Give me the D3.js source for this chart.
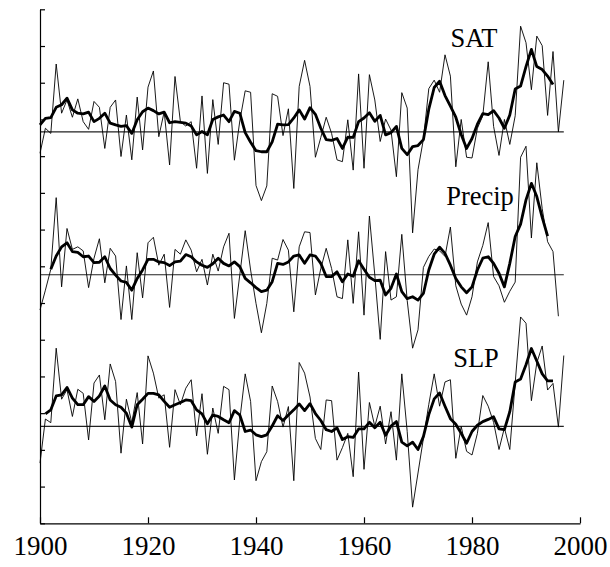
<!DOCTYPE html>
<html>
<head>
<meta charset="utf-8">
<script src="https://cdn.jsdelivr.net/npm/d3@7"></script>
<style>
  html, body { margin: 0; padding: 0; background: #fff; }
  svg { display: block; }
</style>
</head>
<body>
<svg id="chart" width="610" height="567"></svg>
<script>
// ---------------- DATA (values in axis tick units, relative to each series' zero line) -------------
const xTicks = [1900, 1920, 1940, 1960, 1980, 2000];
const seriesNames = ["SAT", "Precip", "SLP"];
const seriesOffsets = [10.66, 6.77, 2.64];   // zero-line position of each series on the stacked axis

const satYears = d3.range(1900, 1998);
const satAnnual = [-0.58, 0.1, -0.04, 1.85, 0.51, 0.87, 0.4, 0.9, 0.28, 0.07,
  0.83, 0.67, -0.45, 0.67, 0.87, -0.67, 0.46, -0.76, 0.95, -0.49,
  1.22, 1.66, -0.13, 0.55, -0.9, 1.51, 0.28, 0.16, 0.28, -0.99,
  0.98, -1.13, 0.88, -0.34, 1.34, 1.3, -0.77, 0.3, 1.12, 1.08,
  -1.46, -1.87, -1.47, 1.04, 0.97, -0.1, 0.63, -1.54, 1.24, 1.95,
  1.24, -0.69, -0.15, 0.4, -0.04, -0.76, -0.81, 0.33, -1.04, 1.58,
  -0.99, 1.56, 0.87, -0.26, 0.35, 0.05, -1.22, 1.07, 0.65, -2.75,
  -1.03, -0.2, 1.18, 1.41, 1.08, 2.1, 1.52, -0.95, 0.34, -0.69,
  -0.71, 0.1, 0.44, 1.91, 0.15, -0.64, 0.34, -0.34, 0.44, 2.88,
  2.43, 1.15, 2.61, 2.35, 0.45, 2.19, 0.0, 1.41];
const satSmoothYears = d3.range(1900, 1996);
const satSmooth = [0.19, 0.37, 0.39, 0.67, 0.74, 0.92, 0.6, 0.51, 0.49, 0.54,
  0.28, 0.37, 0.51, 0.24, 0.19, 0.15, 0.17, -0.04, 0.33, 0.55,
  0.65, 0.58, 0.49, 0.54, 0.25, 0.28, 0.26, 0.24, 0.16, -0.08,
  0.01, -0.08, 0.34, 0.41, 0.46, 0.28, 0.56, 0.51, -0.02, -0.28,
  -0.51, -0.54, -0.54, -0.27, 0.21, 0.19, 0.2, 0.38, 0.6, 0.35,
  0.66, 0.48, 0.1, -0.21, -0.23, -0.18, -0.45, -0.14, -0.15, 0.28,
  0.38, 0.52, 0.29, 0.45, -0.08, -0.02, 0.15, -0.45, -0.62, -0.4,
  -0.37, -0.21, 0.62, 1.21, 1.38, 0.99, 0.7, 0.4, -0.07, -0.45,
  -0.18, 0.21, 0.5, 0.47, 0.58, 0.38, 0.1, 0.46, 1.17, 1.25,
  1.78, 2.25, 1.78, 1.7, 1.52, 1.29];

const precipYears = d3.range(1900, 1997);
const precipAnnual = [-0.96, -0.42, 0.15, 2.1, -0.33, 1.26, 0.69, 0.76, 0.65, -0.35,
  0.45, 0.98, -0.22, 0.72, 0.51, -1.22, 0.24, -1.22, 0.6, -0.63,
  0.87, 1.02, 0.26, 0.56, -0.89, 0.69, 0.56, 0.95, 0.67, 0.08,
  0.42, -0.28, 0.56, 0.1, 0.76, 1.13, -1.19, 0.0, 1.2, 0.13,
  -0.78, -1.58, -0.78, 0.45, 0.4, 0.96, 0.67, -1.01, 0.76, 1.17,
  1.15, -0.55, 0.17, 0.72, 0.17, -0.6, -0.65, 0.95, -0.78, 1.17,
  -1.1, 1.6, -0.01, -1.76, 0.63, -0.69, -0.6, 1.1, -0.7, -2.0,
  -1.5, 0.2, 0.5, 0.7, 0.65, 0.5, 1.3, -0.3, -0.8, -1.1,
  -0.6, 0.35, 0.8, 1.42, -0.05, -0.3, -0.75, -0.45, -0.2, 3.2,
  3.5, 1.0, 3.05, 1.8, 0.9, 0.63, -1.13];
const precipSmoothYears = d3.range(1902, 1995);
const precipSmooth = [0.15, 0.51, 0.76, 0.87, 0.63, 0.61, 0.49, 0.51,
  0.33, 0.34, 0.49, 0.17, -0.01, -0.17, -0.21, -0.42, -0.1, 0.13,
  0.42, 0.42, 0.35, 0.33, 0.25, 0.35, 0.37, 0.55, 0.49, 0.35,
  0.26, 0.2, 0.3, 0.45, 0.31, 0.24, 0.35, 0.22, -0.1, -0.22,
  -0.35, -0.46, -0.42, -0.19, 0.31, 0.28, 0.35, 0.51, 0.54, 0.31,
  0.54, 0.51, 0.31, -0.05, -0.05, 0.08, -0.19, 0.02, -0.04, 0.38,
  0.15, -0.07, -0.16, -0.15, -0.55, -0.37, 0.02, -0.46, -0.65, -0.6,
  -0.69, -0.51, 0.13, 0.56, 0.75, 0.58, 0.26, -0.1, -0.33, -0.49,
  -0.33, 0.13, 0.45, 0.49, 0.31, 0.04, -0.33, 0.31, 1.04, 1.38,
  2.04, 2.49, 2.13, 1.56, 1.05];

const slpYears = d3.range(1900, 1998);
const slpAnnual = [-1.0, 0.2, 0.1, 2.13, 0.74, 1.0, 0.27, 1.01, 0.9, -0.37,
  1.18, 1.4, 0.18, 1.7, 1.22, -0.73, 0.74, 0.1, 0.92, -0.48,
  1.92, 1.45, 0.77, 0.86, -0.57, 1.0, 0.59, 1.04, 1.27, -0.26,
  0.89, -0.76, 0.5, -0.19, 1.09, 1.0, -1.46, 0.18, 1.43, 0.68,
  -1.48, -0.96, -0.69, 1.1, 0.68, -0.02, 0.54, -1.48, 1.74, 1.45,
  0.8, -0.33, -0.63, 0.72, 0.7, -0.92, -0.58, -0.19, -1.37, 1.48,
  -1.17, 0.65, 0.0, 0.55, -0.48, 0.4, -0.92, 1.43, -0.14, -2.2,
  -1.27, -0.33, 0.6, 1.43, 0.55, 1.21, 1.27, -0.87, 0.0, -0.68,
  -0.78, -0.19, 0.84, 0.55, 0.11, -0.63, -0.04, -0.63, 1.19, 2.98,
  2.81, 0.7, 1.73, 2.19, 0.99, 1.17, -0.02, 1.93];
const slpSmoothYears = d3.range(1901, 1996);
const slpSmooth = [0.34, 0.45, 0.83, 0.86, 1.06, 0.77, 0.59, 0.59, 0.81,
  0.68, 0.83, 1.1, 0.72, 0.59, 0.52, 0.36, -0.02, 0.59, 0.74,
  0.9, 0.9, 0.86, 0.68, 0.52, 0.59, 0.65, 0.72, 0.7, 0.45,
  0.34, 0.07, 0.31, 0.27, 0.18, 0.1, 0.43, 0.31, -0.14, -0.1,
  -0.23, -0.28, -0.23, 0.01, 0.29, 0.16, 0.31, 0.45, 0.61, 0.43,
  0.62, 0.35, 0.16, -0.09, -0.14, -0.04, -0.36, -0.28, -0.3, -0.07,
  -0.07, 0.11, -0.04, 0.11, -0.24, 0.01, 0.13, -0.43, -0.53, -0.43,
  -0.63, -0.28, 0.32, 0.75, 0.91, 0.55, 0.21, 0.06, -0.19, -0.46,
  -0.14, 0.03, 0.13, 0.19, 0.26, -0.07, -0.09, 0.4, 1.21, 1.29,
  1.68, 2.12, 1.78, 1.43, 1.24, 1.24];

const yTicks = d3.range(0, 15);
const zeroLineYears = [1900, 1997];

// ---------------- CHART ----------------
const FONT = "Liberation Serif";
const svg = d3.select("#chart");
const x = d3.scaleLinear().domain([1900, 2000]).range([40, 580]);
const y = d3.scaleLinear().domain([0, 14]).range([523.3, 9.3]);

const series = [
  {name: seriesNames[0], off: seriesOffsets[0], ay: satYears, a: satAnnual, sy: satSmoothYears, s: satSmooth, lx: 474, ly: 47},
  {name: seriesNames[1], off: seriesOffsets[1], ay: precipYears, a: precipAnnual, sy: precipSmoothYears, s: precipSmooth, lx: 480, ly: 204.5},
  {name: seriesNames[2], off: seriesOffsets[2], ay: slpYears, a: slpAnnual, sy: slpSmoothYears, s: slpSmooth, lx: 476, ly: 366.5}
];

const line = d3.line().x(d => x(d[0])).y(d => y(d[1]));

series.forEach(sr => {
  svg.append("path")
    .attr("d", line(zeroLineYears.map(yr => [yr, sr.off])))
    .attr("fill", "none").attr("stroke", "#222").attr("stroke-width", 1.2);
  svg.append("path")
    .attr("d", line(sr.ay.map((yr, i) => [yr, sr.off + sr.a[i]])))
    .attr("fill", "none").attr("stroke", "#000").attr("stroke-width", 0.9)
    .attr("stroke-linejoin", "miter");
  svg.append("path")
    .attr("d", line(sr.sy.map((yr, i) => [yr, sr.off + sr.s[i]])))
    .attr("fill", "none").attr("stroke", "#000").attr("stroke-width", 2.8)
    .attr("stroke-linejoin", "round");
  svg.append("text")
    .attr("x", sr.lx).attr("y", sr.ly)
    .attr("text-anchor", "middle")
    .attr("font-family", FONT)
    .attr("font-size", 26.5)
    .attr("fill", "#000")
    .text(sr.name);
});

// axes
const xAxis = d3.axisBottom(x).tickValues(xTicks).tickFormat(d3.format("d"))
  .tickSizeInner(-6).tickSizeOuter(0).tickPadding(13);
const gx = svg.append("g").attr("transform", `translate(0,${y(0)})`).call(xAxis);
gx.attr("font-family", FONT).attr("font-size", 27);
gx.selectAll("text").attr("fill", "#000");
gx.selectAll("line, path").attr("stroke", "#000").attr("stroke-width", 1.2);

const yAxis = d3.axisLeft(y).tickValues(yTicks).tickFormat("")
  .tickSizeInner(-5).tickSizeOuter(0);
const gy = svg.append("g").attr("transform", `translate(${x(1900)},0)`).call(yAxis);
gy.selectAll("line, path").attr("stroke", "#000").attr("stroke-width", 1.2);
</script>
</body>
</html>
